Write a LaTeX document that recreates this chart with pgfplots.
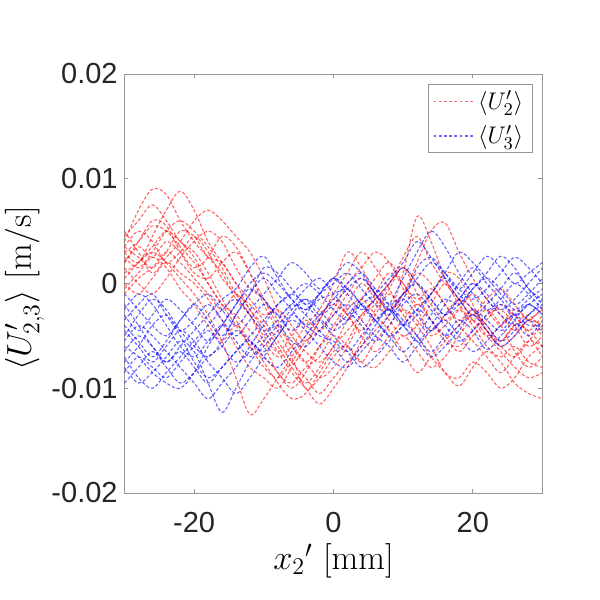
\documentclass[border=0pt]{standalone}
\usepackage[no-math]{fontspec}
\usepackage{pgfplots}
\usepackage{pgfplotstable}
\pgfplotsset{compat=1.18}
\newfontfamily\arial{Liberation Sans}
\definecolor{axgray}{RGB}{150,150,150}
\definecolor{lbl}{RGB}{38,38,38}

% values in units of 1e-3 m/s; one row per curve, columns are x2' in mm
\pgfplotstableread{
name -30 -28 -26 -24 -22 -20 -18 -16 -14 -12 -10 -8 -6 -4 -2 0 2 4 6 8 10 12 14 16 18 20 22 24 26 28 30
r1 4 7 9 8.5 6 4 2.5 1 -1.5 -3 -5 -6.5 -5 -3.5 -4.5 -3 -1 0.5 -1 -2.5 -1 1 0 -2 -3.5 -2.5 -4 -5.5 -4 -3 -4.5
r2 3 2 4.5 7 8.8 7 4 2 0 -2.5 -4 -6 -8 -9.5 -8 -6 -4.5 -3 -1.5 0 1.5 0 -2 -3.5 -2.5 -4 -6 -7 -6 -7.5 -8
r3 2 3.5 2.5 4 3 1.5 2.5 4.5 3.5 1 -2 -4.5 -7 -10 -9 -7 -5.5 -3 -2 0 2.5 4.5 2 0 -1.5 -3.5 -5 -4 -2.5 -3.5 -5
r4 5 3 1 2.5 4 6 7 6 4.5 3 0.5 -2.5 -5 -6.5 -7.5 -6 -3.5 -1.5 0.5 2 0 -1.5 -0.5 -2 -4 -5.5 -7 -8.5 -7 -5.5 -6
r5 1 2 3 2 0.5 -1 -3 -5.5 -9 -12.5 -11 -9 -7 -5 -3 -2 -3 -5 -6.5 -5 -3.5 -2 -3.5 -5.5 -6 -4.5 -3 -2.5 -4 -6 -5
r6 0 -1 0.5 2 1 0 -1.5 -3.5 -6 -8 -9 -10 -8 -6 -3.5 -1 1 3 1.5 -0.5 -3 -5 -7 -8.5 -9.8 -8 -6.5 -7.5 -9.5 -10.5 -11
r7 3.5 5 4 2 3 4.5 3 0.5 -1 -2 -3.5 -5.5 -7.5 -9 -10.5 -9 -7.5 -6 -4.5 -3 -1 2 5 5.8 3 0.5 -1.5 -3 -4.5 -3.5 -2.5
r8 2.5 1.5 3 5 6 5 3.5 1.5 -1 -3 -5.5 -7 -6 -4 -2.5 0 3 1.5 -1 -2.5 1 6.4 4 0.5 -2 -3.5 -2.5 -4 -6.5 -8 -7
r9 -0.5 1 2.5 1.5 -0.5 -2 -4 -5.5 -4 -5.5 -7.5 -9.5 -11 -10.5 -8.5 -6.5 -6 -7.5 -8 -6.5 -5 -6.5 -8 -7 -5 -3.5 -5 -6.5 -8 -9 -8.5
r10 4.5 6 7.5 6 4 3 1 -1.5 -3.5 -6 -7 -8.5 -10 -8.5 -6 -4 -2 0 -1.5 -3.5 -5 -4 -2 0 -1.5 -3 -1.5 -0.5 -2 -3.5 -2.2
r11 1.5 0 -1 0.5 2.5 4 5 4 1.5 -0.5 -1.5 -3.5 -6 -7.5 -6 -4.5 -2.5 -1.5 -3 -4.5 -6.5 -8.5 -7 -5.5 -4 -3 -4.5 -5.5 -4 -4.5 -6
r12 3 4 5.5 5 3.5 2 0 -2 -4 -6 -8 -9 -7.5 -5.5 -4.5 -2.5 0 1.5 3 2 -0.5 -2.5 -4.5 -3 -1.5 -2.5 -4.5 -6 -5 -3.5 -4
r13 -1 0.5 1.5 3 2 0.5 -1 -2.5 -1 -2.5 -4.5 -6.5 -8.5 -10 -11.5 -10 -8 -5.5 -3 -1 -2.5 -4 -6 -8.5 -9 -7.5 -8.5 -10 -9 -7 -6
r14 3.5 2.5 1.5 3 5 4.5 2.5 2 0 -1.5 -3 -2.5 -4 -5.5 -3.5 -1.5 -3 -4.5 -2.5 -0.5 1.5 -1 -3.5 -5 -6.5 -5 -3.5 -2 -3 -4.5 -3
r15 2 4 6 5.5 3 1 0.5 2 3 1 -1.5 -4 -6 -7.5 -9 -8 -6 -3.5 -1 1 0 -2 -1 1 0.5 -2 -4.5 -6 -7 -5.5 -4
r16 0.5 2 3.5 5 4 2.5 0 -2 -3 -4.5 -6 -8.5 -9.5 -8 -7 -5 -6 -7.5 -5.5 -4 -2.5 -3.5 -5 -4 -2.5 -1 -2.5 -4 -3 -5 -7
b1 -5 -3 -1.5 -2.5 -4.5 -6 -7 -5.5 -3 -1 0.5 -1 -2.5 -4 -3 -1.5 0 1 -0.5 -2 -1 0.5 2 1 -0.5 -1.5 -0.5 1 2.5 1.5 0
b2 -8 -9.5 -8.5 -7 -5.5 -6.5 -9.5 -12.3 -10 -7.5 -6 -4.5 -3 -4 -5 -5.5 -6.5 -5 -3.5 -2.5 -4 -5.5 -7 -6 -4.5 -3 -4.5 -6 -5 -3.5 -4.7
b3 -2 -4 -6 -7.5 -6 -4.5 -3 -1.5 -0.5 1.5 2.6 0.5 -1.5 -2.5 -1.5 -1 -0.5 -2 -3.5 -2 0.5 3 5 3.5 1 -1 -2.5 -1.5 0 -1 -2.5
b4 -9.5 -8 -6.5 -8 -9.5 -8.5 -7 -6 -4.5 -5.5 -6.5 -5 -3 -1.5 -2.5 -4 -3 -1.5 -0.5 -2 -3.5 -5 -6.5 -5 -3.5 -4.5 -6.3 -5 -3.5 -2 -3
b5 -6 -7 -8.5 -9.5 -10 -8.5 -6 -4 -2 0 1 0 -1.5 -2.5 -1 0.5 -0.5 -2 -3.5 -5 -6.5 -5 -3 -1.5 -2 -0.5 1 2.6 1.5 -0.5 -1.5
b6 -3.5 -2 -1 -3 -5 -7.5 -9 -8 -6.5 -5 -3.5 -2 -1 -2 -3.5 -5 -6.5 -8 -7 -5.5 -4 -2.5 -1 0.5 -1 -2.5 -4 -5.5 -4.5 -3 -2
b7 -7.5 -6 -4 -3 -4.5 -3.5 -2 -3.5 -5 -3.5 -2 -3 -4.5 -3 -1 0.5 -1 -2.5 -1.5 0 1.5 0 -1.5 -3 -2 -0.5 0.5 -0.5 -2 -1 0.5
b8 -4.5 -6 -7.5 -6 -4.5 -5.5 -7.5 -9 -10.5 -9 -7 -5 -3.5 -4.5 -6 -7.5 -8 -6.5 -5 -3 -1.5 -3 -4.5 -3 -1.5 0 -1.5 -3 -4 -3 -1.5
b9 -1 -2.5 -4 -5 -3.5 -2 -3.5 -5 -3 -1 1.5 1 -0.5 -2 -1 0 1 -0.5 -2 -3 -1.5 1.5 2.5 1 -0.5 1 2.6 1.5 0 1 2
b10 -8.5 -7 -8 -9 -7.5 -6 -4.5 -6 -7.5 -6.5 -5 -4 -5.5 -6 -4.5 -3 -2 -3.5 -5 -6 -7.5 -6 -4.5 -3.5 -5 -6.5 -5.5 -4 -3 -4 -4
b11 -5.5 -4 -5 -6.5 -8 -9.5 -11 -9.5 -8 -6 -4 -2 -1 0 -1 -2.5 -3.5 -2 -1 0.5 2 4 2.5 0.5 -1.5 -3 -2 -0.5 1 -0.5 -2
b12 -3 -4.5 -3 -1.5 -2.5 -4 -5.5 -4 -2 -0.5 -1.5 -3 -2 -0.5 0.5 -1 -2.5 -4 -5.5 -4 -2 -1 -2.5 -4 -5.5 -4.5 -3 -2 -3.5 -5 -3.5
b13 -7 -9 -10 -8.5 -7 -5.5 -4 -2.5 -1.5 -3 -4.5 -3.5 -2 -3 -4.5 -6 -7.5 -6 -4 -2.5 -4 -5.5 -4 -2 0 1.5 0 -1.5 -3 -2 -1
b14 -2.5 -1 -2 -4 -6 -7 -5.5 -4 -5.5 -7 -5.5 -4 -2.5 -1.5 -3 -2 -0.5 0.5 -1 -2.5 -4 -3 -1 1 3 2 0.5 -1 -2.5 -1.5 -0.5
b15 -6.5 -5 -6 -7.5 -6.5 -8 -9.5 -8 -6.5 -5.5 -7 -8 -6.5 -5 -3.5 -4.5 -3.5 -2 -3.5 -5 -4 -2.5 -3.5 -5 -4 -2.5 -3.5 -4.5 -3 -2 -3
b16 -4 -5.5 -7 -5.5 -3.5 -2 -1 -2.5 -4 -2.5 -1 0.5 2 1 -0.5 0.5 2 1 -1 -2.5 -1 0 -1.5 -3 -1.5 0 -1 -2.5 -1.5 0 1.5
}\raw
\pgfplotstabletranspose[colnames from=name]{\data}{\raw}

\tikzset{
  rline/.style={draw=red, draw opacity=0.6, line width=0.55pt, dash pattern=on 1.6pt off 1pt, smooth, tension=0.55},
  bline/.style={draw=blue, draw opacity=0.6, line width=0.55pt, dash pattern=on 1.6pt off 1pt, smooth, tension=0.55},
}

\begin{document}
\begin{tikzpicture}
\path[use as bounding box] (-62.25pt,-53.5pt) rectangle (237.75pt,246.5pt);
\begin{axis}[
  scale only axis,
  width=209pt, height=209.5pt,
  xmin=-30, xmax=30, ymin=-20, ymax=20,
  xtick={-20,0,20}, xticklabels={-20,0,20},
  ytick={-20,-10,0,10,20}, yticklabels={-0.02,-0.01,0,0.01,0.02},
  minor tick num=0,
  tick align=inside,
  major tick length=2pt,
  axis line style={draw=axgray, line width=0.5pt},
  every tick/.style={draw=axgray, line width=0.5pt},
  xticklabel style={font=\arial\fontsize{14.5}{17}\selectfont, text=lbl, inner sep=0pt, anchor=north, yshift=-9.5pt},
  yticklabel style={font=\arial\fontsize{14.5}{17}\selectfont, text=lbl, inner sep=0pt, anchor=east, xshift=-3.25pt},
  xlabel={$x_2{}'\ [\mathrm{mm}]$},
  ylabel={$\langle U'_{2,3}\rangle\ [\mathrm{m/s}]$},
  xlabel style={font=\fontsize{17}{20}\selectfont, at={(axis description cs:0.5,0)}, anchor=center, inner sep=0pt, yshift=-34pt},
  ylabel style={font=\fontsize{17}{20}\selectfont, at={(axis description cs:0,0.5)}, anchor=center, inner sep=0pt, yshift=50pt, xshift=-2.5pt},
  legend style={at={(1,1)}, anchor=north east, xshift=-5pt, yshift=-5pt, draw=axgray, fill=white,
    font=\fontsize{13}{15}\selectfont, inner xsep=2.5pt, inner ysep=1pt, row sep=2.5pt, cells={anchor=west}},
  legend image code/.code={\draw[#1] (0pt,0pt) -- (20pt,0pt);},
]
\pgfplotsinvokeforeach{1,...,16}{
  \addplot[rline, forget plot] table[x=colnames, y=r#1] {\data};
}
\pgfplotsinvokeforeach{1,...,16}{
  \addplot[bline, forget plot] table[x=colnames, y=b#1] {\data};
}
\addlegendimage{draw={rgb,255:red,255;green,110;blue,110}, line width=0.55pt, dash pattern=on 1.4pt off 1.2pt}
\addlegendentry{$\langle U'_2\rangle$}
\addlegendimage{draw={rgb,255:red,110;green,110;blue,255}, line width=0.55pt, dash pattern=on 1.4pt off 1.2pt}
\addlegendentry{$\langle U'_3\rangle$}
\end{axis}
\end{tikzpicture}
\end{document}
